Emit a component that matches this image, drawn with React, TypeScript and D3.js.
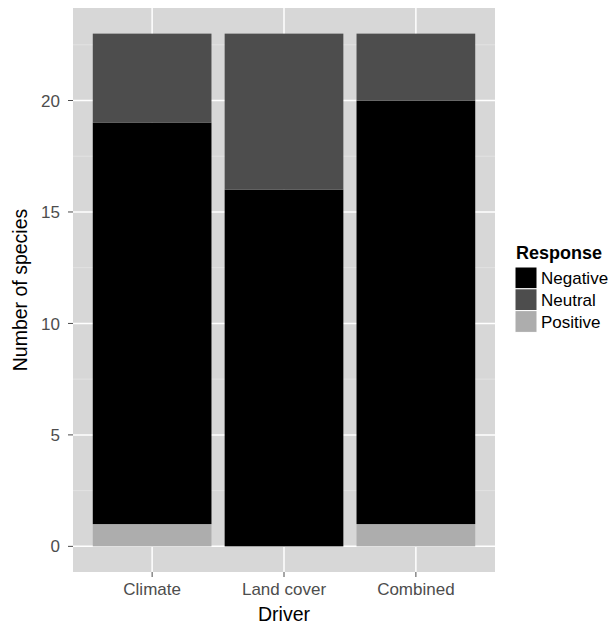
import React from "react";
import * as d3 from "d3";

const drivers = ["Climate", "Land cover", "Combined"];
const responses = ["Positive", "Negative", "Neutral"];
const positive = [1, 0, 1];
const negative = [18, 16, 19];
const neutral = [4, 7, 3];
const yTicks = [0, 5, 10, 15, 20];
const legendOrder = ["Negative", "Neutral", "Positive"];

const color = d3
  .scaleOrdinal<string, string>()
  .domain(["Negative", "Neutral", "Positive"])
  .range(["#000000", "#4d4d4d", "#adadad"]);

const width = 611,
  height = 625;
const panel = { left: 73, right: 495, top: 8, bottom: 572 };
const font = "'Liberation Sans', Arial, Helvetica, sans-serif";

export default function App(): JSX.Element {
  const rows = drivers.map((d, i) => ({
    driver: d,
    Positive: positive[i],
    Negative: negative[i],
    Neutral: neutral[i],
  }));
  const stack = d3.stack<any>().keys(responses)(rows);
  const maxY = d3.max(stack[stack.length - 1], (d) => d[1]) as number;

  // ggplot-like discrete axis: 0.6 expansion each side, bars 0.9 wide
  const x = d3
    .scaleBand()
    .domain(drivers)
    .range([panel.left, panel.right])
    .paddingInner(0)
    .paddingOuter(0.1);
  const barW = x.bandwidth() * 0.9;
  const cx = (d: string) => (x(d) as number) + x.bandwidth() / 2;

  const yPad = maxY * 0.05;
  const y = d3
    .scaleLinear()
    .domain([-yPad, maxY + yPad])
    .range([panel.bottom, panel.top]);

  const minor = yTicks.slice(0, -1).map((t, i) => (t + yTicks[i + 1]) / 2);
  minor.push(yTicks[yTicks.length - 1] + 2.5);

  return (
    <svg
      width={width}
      height={height}
      style={{ position: "absolute", left: 0, top: 0, background: "#fff" }}
      fontFamily={font}
    >
      <rect
        x={panel.left}
        y={panel.top}
        width={panel.right - panel.left}
        height={panel.bottom - panel.top}
        fill="#d7d7d7"
      />
      {minor
        .filter((t) => y(t) > panel.top)
        .map((t) => (
          <line
            key={"m" + t}
            x1={panel.left}
            x2={panel.right}
            y1={y(t)}
            y2={y(t)}
            stroke="#e4e4e4"
            strokeWidth={0.8}
          />
        ))}
      {yTicks.map((t) => (
        <line
          key={"g" + t}
          x1={panel.left}
          x2={panel.right}
          y1={y(t)}
          y2={y(t)}
          stroke="#ffffff"
          strokeWidth={1.5}
        />
      ))}
      {drivers.map((d) => (
        <line
          key={"v" + d}
          x1={cx(d)}
          x2={cx(d)}
          y1={panel.top}
          y2={panel.bottom}
          stroke="#ffffff"
          strokeWidth={1.5}
        />
      ))}
      {stack.map((layer) =>
        layer.map((seg, i) => (
          <rect
            key={layer.key + i}
            x={cx(drivers[i]) - barW / 2}
            width={barW}
            y={y(seg[1])}
            height={y(seg[0]) - y(seg[1])}
            fill={color(layer.key)}
          />
        ))
      )}
      {yTicks.map((t) => (
        <g key={"yt" + t}>
          <line x1={panel.left - 5} x2={panel.left} y1={y(t)} y2={y(t)} stroke="#4d4d4d" />
          <text
            x={panel.left - 13}
            y={y(t)}
            dy="0.36em"
            textAnchor="end"
            fontSize={17}
            fill="#4d4d4d"
          >
            {t}
          </text>
        </g>
      ))}
      {drivers.map((d) => (
        <g key={"xt" + d}>
          <line x1={cx(d)} x2={cx(d)} y1={panel.bottom} y2={panel.bottom + 5} stroke="#4d4d4d" />
          <text x={cx(d)} y={595} textAnchor="middle" fontSize={17} fill="#4d4d4d">
            {d}
          </text>
        </g>
      ))}
      <text
        x={(panel.left + panel.right) / 2}
        y={621}
        textAnchor="middle"
        fontSize={19.5}
        fill="#000"
      >
        Driver
      </text>
      <text
        transform={`translate(27, ${(panel.top + panel.bottom) / 2}) rotate(-90)`}
        textAnchor="middle"
        fontSize={19.5}
        fill="#000"
      >
        Number of species
      </text>
      <g transform="translate(515, 0)">
        <text x={1} y={259} fontSize={18} fontWeight="bold" fill="#000">
          Response
        </text>
        {legendOrder.map((r, i) => (
          <g key={r} transform={`translate(0, ${267 + i * 21.8})`}>
            <rect width={22} height={21.8} fill={color(r)} stroke="#fff" strokeWidth={1} />
            <text x={26} y={11} dy="0.36em" fontSize={17} fill="#000">
              {r}
            </text>
          </g>
        ))}
      </g>
    </svg>
  );
}
